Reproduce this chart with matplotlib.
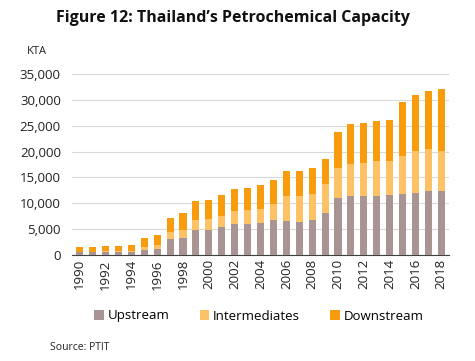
import numpy as np
import matplotlib
matplotlib.use("Agg")
import matplotlib.pyplot as plt
from matplotlib.ticker import FuncFormatter

years = list(range(1990, 2019))
# stacked segments in KTA
upstream = [520, 520, 500, 500, 600, 1030, 1220, 3090, 3290, 4830, 4830, 5410, 5990,
            5990, 6190, 6770, 6570, 6380, 6770, 8120, 11020, 11400, 11400, 11400, 11600,
            11790, 11980, 12370, 12370]
intermediates = [130, 130, 200, 200, 100, 520, 780, 1360, 1540, 1940, 2130, 2130, 2510,
                 2710, 2700, 3090, 4830, 5020, 5020, 5600, 5800, 6190, 6380, 6770, 6570,
                 7350, 8120, 8120, 7730]
downstream = [900, 900, 1040, 1040, 1300, 1740, 1870, 2700, 3350, 3670, 3670, 4060, 4260,
              4250, 4640, 4640, 4840, 4840, 5030, 4840, 6960, 7730, 7740, 7730, 7930,
              10440, 10830, 11210, 11990]
tick_years = years[::2]

c_up = "#a89593"
c_int = "#fcc265"
c_down = "#f89b0c"

plt.rcParams["font.family"] = ["Open Sans", "DejaVu Sans"]
fig = plt.figure(figsize=(4.75, 3.61), dpi=100)
ax = fig.add_axes([72/475, 1-255/361, (449-72)/475, (255-74)/361])

x = np.arange(len(years))
up = np.array(upstream)
mid = np.array(intermediates)
ax.bar(x, upstream, width=0.55, color=c_up, label="Upstream", zorder=3)
ax.bar(x, intermediates, width=0.55, bottom=up, color=c_int, label="Intermediates", zorder=3)
ax.bar(x, downstream, width=0.55, bottom=up+mid, color=c_down, label="Downstream", zorder=3)

ax.set_ylim(0, 35000)
ax.set_xlim(-0.6, len(years)-0.4)
ax.set_yticks(range(0, 35001, 5000))
ax.yaxis.set_major_formatter(FuncFormatter(lambda v, p: f"{int(v):,}"))
ax.grid(axis="y", color="#d9d9d9", lw=0.8, zorder=0)
ax.set_xticks(x[::2])
ax.set_xticklabels([str(y) for y in tick_years], rotation=90, fontsize=9.5, color="#222222")
ax.tick_params(axis="y", length=0, labelsize=9.5, labelcolor="#222222", pad=8)
ax.tick_params(axis="x", length=0, pad=3)
for s in ["top", "right", "left"]:
    ax.spines[s].set_visible(False)
ax.spines["bottom"].set_color("#404040")

fig.text(233/475, 1-18/361, "Figure 12: Thailand\u2019s Petrochemical Capacity",
         ha="center", va="center", fontsize=11.5, fontweight="bold", color="#111111")
fig.text(37/475, 1-52/361, "KTA", ha="center", va="center", fontsize=8, color="#222222")
fig.legend(loc="center", bbox_to_anchor=(259/475, 1-316/361), ncol=3, frameon=False,
           fontsize=9.5, handlelength=0.7, handleheight=0.7, handletextpad=0.3,
           columnspacing=2.3)
fig.text(50/475, 1-347/361, "Source: PTIT", ha="left", va="center", fontsize=7.5, color="#222222")

fig.savefig("out.png", dpi=100)
